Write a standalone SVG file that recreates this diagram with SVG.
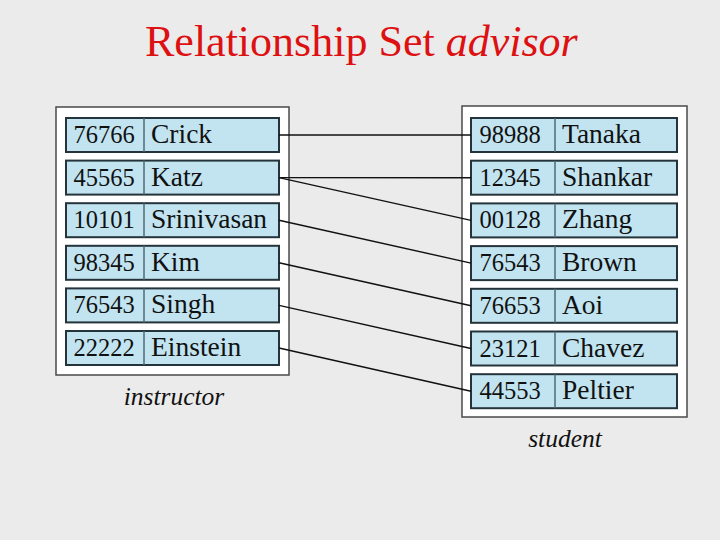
<svg xmlns="http://www.w3.org/2000/svg" width="720" height="540" viewBox="0 0 720 540">
<style>
.bg{fill:#ebebeb}
.outer{fill:#ffffff;stroke:#4a4a4a;stroke-width:1.5}
.row{fill:#c2e4f0;stroke:#25343a;stroke-width:2}
.div{stroke:#4f6a75;stroke-width:1.5}
.t{font-family:"Liberation Serif","DejaVu Serif",serif;font-size:27.5px;fill:#111}
.num{text-anchor:middle;font-size:24.5px}
.cap{font-family:"Liberation Serif","DejaVu Serif",serif;font-size:25.5px;font-style:italic;fill:#111;text-anchor:middle}
.title{font-family:"Liberation Serif","Times New Roman",serif;font-size:44px;fill:#dd1111}
.conn line{stroke:#111;stroke-width:1.4}
</style>
<rect class="bg" x="0" y="0" width="720" height="540"/>
<text class="title" x="145" y="56">Relationship Set <tspan font-style="italic">advisor</tspan></text>

<g id="instructor">
<rect class="outer" x="56" y="107" width="233" height="268"/>
<text class="cap" x="174" y="405">instructor</text>
</g>
<g id="i-76766"><rect class="row" x="66" y="118" width="213" height="34"/><line class="div" x1="144" y1="118" x2="144" y2="152"/><text class="t num" x="104" y="143">76766</text><text class="t" x="151" y="143">Crick</text></g>
<g id="i-45565"><rect class="row" x="66" y="160.6" width="213" height="34"/><line class="div" x1="144" y1="160.6" x2="144" y2="194.6"/><text class="t num" x="104" y="185.6">45565</text><text class="t" x="151" y="185.6">Katz</text></g>
<g id="i-10101"><rect class="row" x="66" y="203.2" width="213" height="34"/><line class="div" x1="144" y1="203.2" x2="144" y2="237.2"/><text class="t num" x="104" y="228.2">10101</text><text class="t" x="151" y="228.2">Srinivasan</text></g>
<g id="i-98345"><rect class="row" x="66" y="245.8" width="213" height="34"/><line class="div" x1="144" y1="245.8" x2="144" y2="279.8"/><text class="t num" x="104" y="270.8">98345</text><text class="t" x="151" y="270.8">Kim</text></g>
<g id="i-76543"><rect class="row" x="66" y="288.4" width="213" height="34"/><line class="div" x1="144" y1="288.4" x2="144" y2="322.4"/><text class="t num" x="104" y="313.4">76543</text><text class="t" x="151" y="313.4">Singh</text></g>
<g id="i-22222"><rect class="row" x="66" y="331" width="213" height="34"/><line class="div" x1="144" y1="331" x2="144" y2="365"/><text class="t num" x="104" y="356">22222</text><text class="t" x="151" y="356">Einstein</text></g>

<g id="student">
<rect class="outer" x="462" y="106" width="225" height="311"/>
<text class="cap" x="565" y="447">student</text>
</g>
<g id="s-98988"><rect class="row" x="471" y="118" width="206" height="34"/><line class="div" x1="555" y1="118" x2="555" y2="152"/><text class="t num" x="510" y="143">98988</text><text class="t" x="562" y="143">Tanaka</text></g>
<g id="s-12345"><rect class="row" x="471" y="160.7" width="206" height="34"/><line class="div" x1="555" y1="160.7" x2="555" y2="194.7"/><text class="t num" x="510" y="185.7">12345</text><text class="t" x="562" y="185.7">Shankar</text></g>
<g id="s-00128"><rect class="row" x="471" y="203.4" width="206" height="34"/><line class="div" x1="555" y1="203.4" x2="555" y2="237.4"/><text class="t num" x="510" y="228.4">00128</text><text class="t" x="562" y="228.4">Zhang</text></g>
<g id="s-76543"><rect class="row" x="471" y="246.1" width="206" height="34"/><line class="div" x1="555" y1="246.1" x2="555" y2="280.1"/><text class="t num" x="510" y="271.1">76543</text><text class="t" x="562" y="271.1">Brown</text></g>
<g id="s-76653"><rect class="row" x="471" y="288.8" width="206" height="34"/><line class="div" x1="555" y1="288.8" x2="555" y2="322.8"/><text class="t num" x="510" y="313.8">76653</text><text class="t" x="562" y="313.8">Aoi</text></g>
<g id="s-23121"><rect class="row" x="471" y="331.5" width="206" height="34"/><line class="div" x1="555" y1="331.5" x2="555" y2="365.5"/><text class="t num" x="510" y="356.5">23121</text><text class="t" x="562" y="356.5">Chavez</text></g>
<g id="s-44553"><rect class="row" x="471" y="374.2" width="206" height="34"/><line class="div" x1="555" y1="374.2" x2="555" y2="408.2"/><text class="t num" x="510" y="399.2">44553</text><text class="t" x="562" y="399.2">Peltier</text></g>

<g id="connectors" class="conn">
<line x1="279" y1="135" x2="471" y2="135"/>
<line x1="279" y1="177.6" x2="471" y2="177.7"/>
<line x1="279" y1="177.6" x2="471" y2="220.4"/>
<line x1="279" y1="220.2" x2="471" y2="263.1"/>
<line x1="279" y1="262.8" x2="471" y2="305.8"/>
<line x1="279" y1="305.4" x2="471" y2="348.5"/>
<line x1="279" y1="348" x2="471" y2="391.2"/>
</g>
</svg>
